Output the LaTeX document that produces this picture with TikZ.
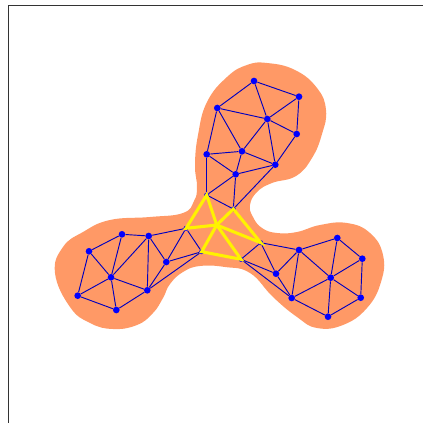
\documentclass[tikz,border=0pt]{standalone}
\usepackage{xcolor}
\definecolor{blobcol}{HTML}{FF9966}
\definecolor{framecol}{HTML}{333333}
\tikzset{
  blob/.style={fill=blobcol, draw=none},
  vertex/.style={circle, fill=blue, minimum size=5pt, inner sep=0pt},
  smallvertex/.style={circle, fill=blue, minimum size=3.8pt, inner sep=0pt},
  edge/.style={blue!75!black, line width=0.7pt},
  hot/.style={yellow, line width=2.3pt, line cap=round}
}

\begin{document}
\begin{tikzpicture}[x=0.75pt, y=-0.75pt]
		\useasboundingbox (0,0) rectangle (423,423);
		% frame
		\draw[framecol, line width=0.75pt] (8,423) -- (8,5.5) -- (423,5.5);
		% orange region
		\fill[blob] plot[smooth cycle, tension=0.75] coordinates {
			(197,187) (195,165) (198,135) (207,102) (227,77) (247,65) (267,63)
			(295,70) (317,88) (326,110) (322,134) (312,158) (296,176) (272,183)
			(257,192) (250,205) (253,217) (262,228) (277,233) (297,232) (320,225)
			(347,223) (370,233) (383,255) (381,282) (367,308) (343,325) (317,328)
			(297,317) (273,297) (250,273) (225,267) (200,266) (183,272) (170,284)
			(163,298) (153,313) (137,325) (113,329) (90,323) (70,307) (55,273)
			(63,247) (83,232) (110,220) (150,217) (183,213) (194,201)
		};
		% top lobe
		\node[vertex] (a) at (254,81) {};
		\node[vertex] (b) at (299,96.7) {};
		\node[vertex] (c) at (217.3,108) {};
		\node[vertex] (d) at (267.3,119) {};
		\node[vertex] (e) at (296.7,134) {};
		\node[vertex] (f) at (242,151.3) {};
		\node[vertex] (g) at (206.7,154.3) {};
		\node[vertex] (h) at (275.3,164.7) {};
		\node[vertex] (i) at (235.7,174.3) {};
		% left lobe
		\node[vertex] (l1) at (122,234.3) {};
		\node[vertex] (l2) at (148.7,236) {};
		\node[vertex] (l3) at (89,251.3) {};
		\node[vertex] (l4) at (166.3,262) {};
		\node[vertex] (l5) at (111,277.3) {};
		\node[vertex] (l6) at (147.3,290.3) {};
		\node[vertex] (l7) at (77.7,295.7) {};
		\node[vertex] (l8) at (116.3,310) {};
		% right lobe
		\node[vertex] (r1) at (299,250) {};
		\node[vertex] (r2) at (337.3,238) {};
		\node[vertex] (r3) at (362.3,258.7) {};
		\node[vertex] (r4) at (276,273.7) {};
		\node[vertex] (r5) at (330.7,277.7) {};
		\node[vertex] (r6) at (291.7,298) {};
		\node[vertex] (r7) at (360.7,297.7) {};
		\node[vertex] (r8) at (328,316.7) {};
		% junction
		\node[smallvertex] (j) at (206.7,195) {};
		\node[smallvertex] (k) at (233.3,209) {};
		\node[smallvertex] (m) at (186,228.3) {};
		\node[smallvertex] (n) at (201.7,251.7) {};
		\node[smallvertex] (p) at (241,259.3) {};
		\node[smallvertex] (q) at (260.7,242.7) {};
		\coordinate (o) at (216.7,225);
		% mesh
		\foreach \u/\v in {a/b,a/c,a/d,b/d,b/e,d/e,c/d,c/f,c/g,d/f,d/h,e/h,f/g,f/h,f/i,g/i,g/j,h/i,i/j,i/k,h/k,j/k,
			l3/l1,l1/l2,l2/m,l3/l5,l3/l7,l1/l5,l2/l5,l2/l6,l2/l4,m/l4,m/n,l4/n,l4/l6,l5/l6,l5/l7,l5/l8,l7/l8,l6/l8,l6/n,
			q/r1,r1/r2,r2/r3,r3/r7,r7/r8,r8/r6,r6/r1,r1/r5,r2/r5,r3/r5,r5/r7,r5/r8,r5/r6,r1/r4,r4/r6,r4/q,r4/p,q/p,p/r6}
			\draw[edge] (\u) -- (\v);
		% yellow triangles
		\draw[hot] (o) -- (j.center) -- (m.center) -- cycle;
		\draw[hot] (o) -- (k.center) -- (q.center) -- cycle;
		\draw[hot] (o) -- (n.center) -- (p.center) -- cycle;
	\end{tikzpicture}
\end{document}
